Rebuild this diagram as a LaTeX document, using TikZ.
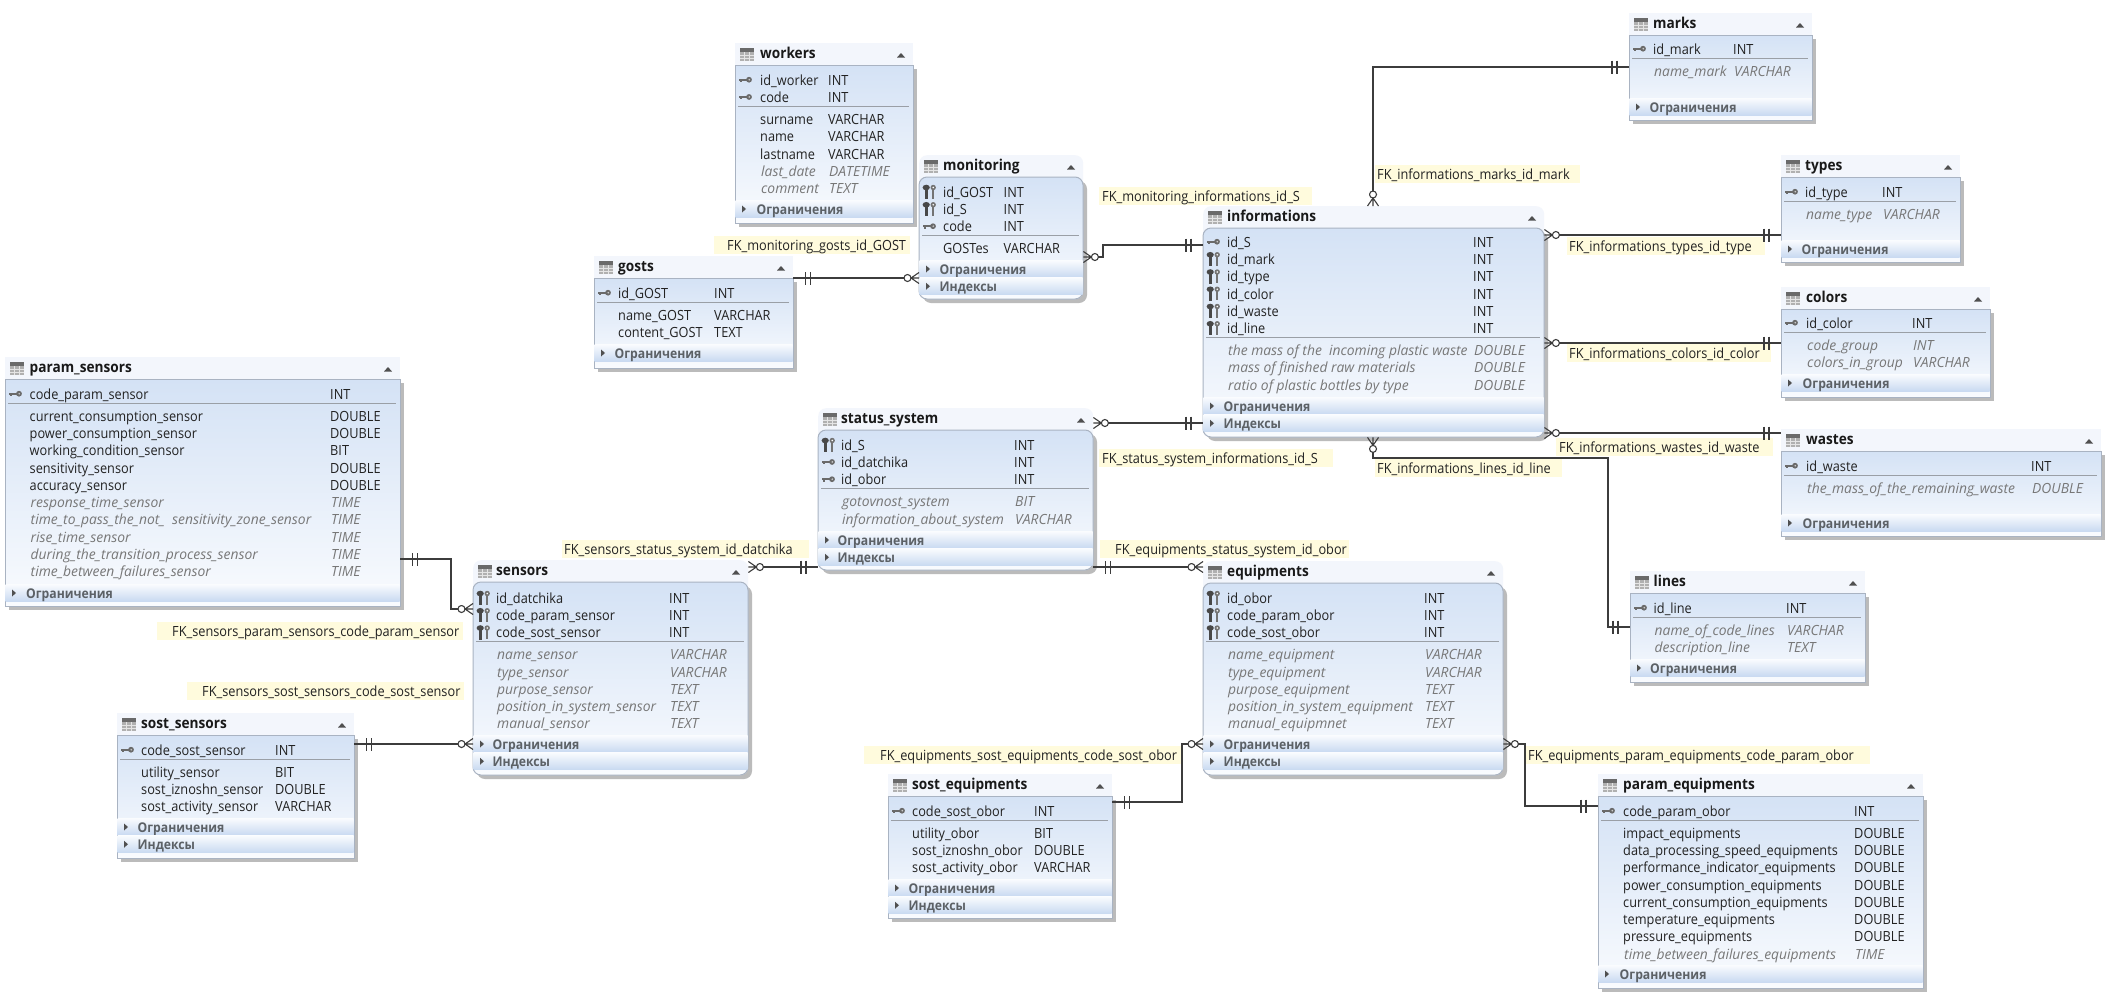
\documentclass[tikz,border=0pt]{standalone}
\usepackage{fontspec}
\setmainfont[FakeStretch=0.91,ItalicFeatures={FakeStretch=0.99},BoldItalicFeatures={FakeStretch=0.99}]{Open Sans}
\definecolor{bandc}{HTML}{F3F6FC}
\definecolor{bodytop}{HTML}{D4E2F5}
\definecolor{bodybot}{HTML}{F9FBFE}
\definecolor{secbot}{HTML}{C9DAF1}
\definecolor{edgec}{HTML}{A9B3C2}
\definecolor{shadowc}{HTML}{BBBBBB}
\definecolor{rulec}{HTML}{9A9FA6}
\definecolor{textc}{HTML}{222222}
\definecolor{italc}{HTML}{777777}
\definecolor{secc}{HTML}{5C6166}
\definecolor{iconc}{HTML}{505050}
\definecolor{labelc}{HTML}{FFFBDD}
\definecolor{linec}{HTML}{3C3C3C}
\pgfarrowsdeclare{ermany}{ermany}
{\pgfarrowsleftextend{0pt}\pgfarrowsrightextend{15pt}}
{\pgfsetdash{}{0pt}\pgfsetroundjoin
 \pgfpathcircle{\pgfpoint{3.5pt}{0pt}}{3.5pt}\pgfusepathqstroke
 \pgfpathmoveto{\pgfpoint{15pt}{5.5pt}}\pgfpathlineto{\pgfpoint{7pt}{0pt}}\pgfpathlineto{\pgfpoint{15pt}{-5.5pt}}
 \pgfpathmoveto{\pgfpoint{7pt}{0pt}}\pgfpathlineto{\pgfpoint{15pt}{0pt}}\pgfusepathqstroke}
\pgfarrowsdeclare{erone}{erone}
{\pgfarrowsleftextend{0pt}\pgfarrowsrightextend{17pt}}
{\pgfsetdash{}{0pt}
 \pgfpathmoveto{\pgfpoint{0pt}{0pt}}\pgfpathlineto{\pgfpoint{17pt}{0pt}}
 \pgfpathmoveto{\pgfpoint{0pt}{6.5pt}}\pgfpathlineto{\pgfpoint{0pt}{-6.5pt}}
 \pgfpathmoveto{\pgfpoint{5pt}{6.5pt}}\pgfpathlineto{\pgfpoint{5pt}{-6.5pt}}\pgfusepathqstroke}
\tikzset{
 tablebox/.style={fill=bandc,inner sep=0pt,anchor=north west},
 celltext/.style={anchor=base west,inner sep=0pt,yshift=-5.3pt,font=\fontsize{14}{16}\selectfont,text=textc},
 italtext/.style={celltext,xshift=1pt,text=italc,font=\fontsize{14}{16}\selectfont\itshape},
 titletext/.style={celltext,font=\fontsize{15}{16}\selectfont\bfseries,text=black!90},
 sectext/.style={celltext,text=secc,font=\fontsize{13.4}{16}\selectfont\bfseries},
 fktext/.style={celltext,text=textc},
 conn/.style={draw=linec,line width=1.1pt},
}
\newcount\rc
\newcommand\startat[1]{\xdef\ry{#1}}
\newcommand\advy[1]{\pgfmathsetmacro\tmpy{\ry+#1}\xdef\ry{\tmpy}}
% id, title, x1, x2, top, bottom, radius, col1, col2
\newcommand\ertable[9]{%
 \gdef\tid{#1}\gdef\xa{#3}\gdef\xb{#4}\gdef\colA{#8}\gdef\colB{#9}%
 \fill[shadowc,rounded corners=#7pt] (#3+4,#5+26) rectangle (#4+4,#6+4);
 \node[tablebox,rounded corners=#7pt,minimum width={#4-(#3)},minimum height={#6-(#5)}] (#1) at (#3,#5) {};
 \shade[top color=bodytop,bottom color=bodybot,rounded corners=#7pt] (#3,#5+22) rectangle (#4,#6);
 \draw[edgec,line width=1pt,rounded corners=#7pt] (#3,#5+22) rectangle (#4,#6);
 \fill[iconc!85] (#3+5,#5+4.5) rectangle (#3+19,#5+9);
 \fill[iconc!45] (#3+5,#5+9) rectangle (#3+19,#5+18);
 \draw[white!85!iconc,line width=.6pt] (#3+9.7,#5+9) -- (#3+9.7,#5+18) (#3+14.3,#5+9) -- (#3+14.3,#5+18) (#3+5,#5+12) -- (#3+19,#5+12) (#3+5,#5+15) -- (#3+19,#5+15);
 \node[titletext] (#1title) at (#8,#5+10) {#2};
 \fill[iconc] (#4-16,#5+14.5) -- (#4-8,#5+14.5) -- (#4-12,#5+10) -- cycle;
}
\newcommand\rowtext[3]{%
 \global\advance\rc by 1
 \node[#1] (\tid a\the\rc) at (\colA,\ry) {#2};
 \node[#1] (\tid b\the\rc) at (\colB,\ry) {#3};
 \advy{17.25}}
\newcommand\pkrow[2]{%
 \fill[iconc!85] (\xa+4,\ry-1.2) rectangle (\xa+14,\ry+.8);
 \fill[iconc!85] (\xa+4.5,\ry+.8) rectangle (\xa+7,\ry+2.2);
 \fill[iconc!85] (\xa+14,\ry-.3) circle (2.9);
 \fill[white!70!iconc] (\xa+14.3,\ry-.3) circle (.9);
 \rowtext{celltext}{#1}{#2}}
\newcommand\fkrow[2]{%
 \fill[iconc!90!black] (\xa+7.2,\ry-4.5) ellipse (3.6 and 2.8);
 \fill[iconc!90!black] (\xa+5.7,\ry-4) rectangle (\xa+8.7,\ry+7);
 \fill[iconc!80] (\xa+14.2,\ry-4.5) circle (2.7);
 \fill[white] (\xa+14.2,\ry-4.5) circle (.9);
 \fill[iconc!80] (\xa+13.1,\ry-2.5) rectangle (\xa+15.3,\ry+6.5);
 \rowtext{celltext}{#1}{#2}}
\newcommand\datarow[2]{\rowtext{celltext}{#1}{#2}}
\newcommand\itrow[2]{\rowtext{italtext}{#1}{#2}}
\newcommand\seprule{%
 \draw[rulec,line width=1pt] (\xa+3,\ry-8.25) -- (\xb-4,\ry-8.25);
 \advy{4.75}}
\newcommand\sectrow[1]{%
 \global\advance\rc by 1
 \shade[top color=bodybot,bottom color=secbot] (\xa+.5,\ry-8.5) rectangle (\xb-.5,\ry+8.2);
 \fill[iconc] (\xa+7,\ry-3.5) -- (\xa+7,\ry+3.5) -- (\xa+11,\ry) -- cycle;
 \node[sectext] (\tid s\the\rc) at (\colA-3.5,\ry) {#1};
 \advy{17.25}}
\newcommand\fklab[6]{% name, text, x1, x2, yc, textx
 \fill[labelc] (#3,#5-9) rectangle (#4,#5+9);
 \node[fktext] (#1) at (#6,#5) {#2};}
\catcode`\_=12
\begin{document}
\begin{tikzpicture}[x=1pt,y=-1pt]
\useasboundingbox (0,0) rectangle (2114,1004);
\fill[white] (0,0) rectangle (2114,1004);

\ertable{workers}{workers}{735}{913}{43}{223}{0}{760}{828}
\startat{80}\pkrow{id_worker}{INT}\pkrow{code}{INT}\seprule
\datarow{surname}{VARCHAR}\datarow{name}{VARCHAR}\datarow{lastname}{VARCHAR}
\itrow{last_date}{DATETIME}\itrow{comment}{TEXT}
\startat{209}\sectrow{Ограничения}

\ertable{monitoring}{monitoring}{919}{1083}{155}{299}{8}{943}{1003.5}
\startat{192}\fkrow{id_GOST}{INT}\fkrow{id_S}{INT}\pkrow{code}{INT}\seprule
\datarow{GOSTes}{VARCHAR}
\startat{269}\sectrow{Ограничения}\sectrow{Индексы}

\ertable{gosts}{gosts}{594}{793}{256}{368}{0}{618}{714}
\startat{293}\pkrow{id_GOST}{INT}\seprule
\datarow{name_GOST}{VARCHAR}\datarow{content_GOST}{TEXT}
\startat{353}\sectrow{Ограничения}

\ertable{informations}{informations}{1203}{1544}{206}{437}{8}{1227}{1473}
\startat{242}\pkrow{id_S}{INT}\fkrow{id_mark}{INT}\fkrow{id_type}{INT}\fkrow{id_color}{INT}\fkrow{id_waste}{INT}\fkrow{id_line}{INT}\seprule
\itrow{the mass of the \ incoming plastic waste}{DOUBLE}\itrow{mass of finished raw materials}{DOUBLE}\itrow{ratio of plastic bottles by type}{DOUBLE}
\startat{406}\sectrow{Ограничения}\sectrow{Индексы}

\ertable{marks}{marks}{1629}{1812}{13}{120}{0}{1653}{1733}
\startat{49}\pkrow{id_mark}{INT}\seprule
\itrow{name_mark}{VARCHAR}
\startat{107}\sectrow{Ограничения}

\ertable{types}{types}{1781}{1960}{155}{262}{0}{1805}{1882}
\startat{192}\pkrow{id_type}{INT}\seprule
\itrow{name_type}{VARCHAR}
\startat{249}\sectrow{Ограничения}

\ertable{colors}{colors}{1781}{1990}{287}{397}{0}{1806}{1912}
\startat{323}\pkrow{id_color}{INT}\seprule
\itrow{code_group}{INT}\itrow{colors_in_group}{VARCHAR}
\startat{383}\sectrow{Ограничения}

\ertable{wastes}{wastes}{1781}{2101}{429}{536}{0}{1806}{2031}
\startat{466}\pkrow{id_waste}{INT}\seprule
\itrow{the_mass_of_the_remaining_waste}{DOUBLE}
\startat{523}\sectrow{Ограничения}

\ertable{lines}{lines}{1630}{1865}{571}{682}{0}{1653.5}{1786}
\startat{608}\pkrow{id_line}{INT}\seprule
\itrow{name_of_code_lines}{VARCHAR}\itrow{description_line}{TEXT}
\startat{668}\sectrow{Ограничения}

\ertable{status}{status_system}{818}{1093}{408}{570}{8}{841}{1014}
\startat{445}\fkrow{id_S}{INT}\pkrow{id_datchika}{INT}\pkrow{id_obor}{INT}\seprule
\itrow{gotovnost_system}{BIT}\itrow{information_about_system}{VARCHAR}
\startat{540}\sectrow{Ограничения}\sectrow{Индексы}

\ertable{psens}{param_sensors}{5}{400}{357}{606}{0}{29.5}{330}
\startat{394}\pkrow{code_param_sensor}{INT}\seprule
\datarow{current_consumption_sensor}{DOUBLE}\datarow{power_consumption_sensor}{DOUBLE}\datarow{working_condition_sensor}{BIT}\datarow{sensitivity_sensor}{DOUBLE}\datarow{accuracy_sensor}{DOUBLE}
\itrow{response_time_sensor}{TIME}\itrow{time_to_pass_the_not_ \ sensitivity_zone_sensor}{TIME}\itrow{rise_time_sensor}{TIME}\itrow{during_the_transition_process_sensor}{TIME}\itrow{time_between_failures_sensor}{TIME}
\startat{593}\sectrow{Ограничения}

\ertable{sensors}{sensors}{473}{748}{560}{775}{8}{496}{669}
\startat{598}\fkrow{id_datchika}{INT}\fkrow{code_param_sensor}{INT}\fkrow{code_sost_sensor}{INT}\seprule
\itrow{name_sensor}{VARCHAR}\itrow{type_sensor}{VARCHAR}\itrow{purpose_sensor}{TEXT}\itrow{position_in_system_sensor}{TEXT}\itrow{manual_sensor}{TEXT}
\startat{744}\sectrow{Ограничения}\sectrow{Индексы}

\ertable{ssens}{sost_sensors}{117}{354}{713}{858}{0}{141}{275}
\startat{750}\pkrow{code_sost_sensor}{INT}\seprule
\datarow{utility_sensor}{BIT}\datarow{sost_iznoshn_sensor}{DOUBLE}\datarow{sost_activity_sensor}{VARCHAR}
\startat{827}\sectrow{Ограничения}\sectrow{Индексы}

\ertable{equipments}{equipments}{1203}{1503}{561}{775}{8}{1227}{1424}
\startat{598}\fkrow{id_obor}{INT}\fkrow{code_param_obor}{INT}\fkrow{code_sost_obor}{INT}\seprule
\itrow{name_equipment}{VARCHAR}\itrow{type_equipment}{VARCHAR}\itrow{purpose_equipment}{TEXT}\itrow{position_in_system_equipment}{TEXT}\itrow{manual_equipmnet}{TEXT}
\startat{744}\sectrow{Ограничения}\sectrow{Индексы}

\ertable{sequip}{sost_equipments}{888}{1112}{774}{918}{0}{912}{1034}
\startat{811}\pkrow{code_sost_obor}{INT}\seprule
\datarow{utility_obor}{BIT}\datarow{sost_iznoshn_obor}{DOUBLE}\datarow{sost_activity_obor}{VARCHAR}
\startat{888}\sectrow{Ограничения}\sectrow{Индексы}

\ertable{pequip}{param_equipments}{1598}{1923}{774}{988}{0}{1623}{1854}
\startat{811}\pkrow{code_param_obor}{INT}\seprule
\datarow{impact_equipments}{DOUBLE}\datarow{data_processing_speed_equipments}{DOUBLE}\datarow{performance_indicator_equipments}{DOUBLE}\datarow{power_consumption_equipments}{DOUBLE}\datarow{current_consumption_equipments}{DOUBLE}\datarow{temperature_equipments}{DOUBLE}\datarow{pressure_equipments}{DOUBLE}
\itrow{time_between_failures_equipments}{TIME}
\startat{974}\sectrow{Ограничения}

\fklab{fk1}{FK_monitoring_gosts_id_GOST}{714}{910}{245}{727}
\fklab{fk2}{FK_monitoring_informations_id_S}{1099}{1312}{196}{1102}
\fklab{fk3}{FK_informations_marks_id_mark}{1375}{1580}{174}{1377}
\fklab{fk4}{FK_informations_types_id_type}{1567}{1765}{246}{1569}
\fklab{fk5}{FK_informations_colors_id_color}{1567}{1771}{353}{1569}
\fklab{fk6}{FK_informations_wastes_id_waste}{1556}{1773}{447}{1559}
\fklab{fk7}{FK_informations_lines_id_line}{1375}{1562}{468}{1377}
\fklab{fk8}{FK_status_system_informations_id_S}{1099}{1333}{458}{1102}
\fklab{fk9}{FK_equipments_status_system_id_obor}{1100}{1349}{549}{1115}
\fklab{fk10}{FK_sensors_status_system_id_datchika}{562}{809}{549}{564}
\fklab{fk11}{FK_sensors_param_sensors_code_param_sensor}{157}{463}{631}{172}
\fklab{fk12}{FK_sensors_sost_sensors_code_sost_sensor}{187}{464}{691}{202}
\fklab{fk13}{FK_equipments_sost_equipments_code_sost_obor}{864}{1183}{755}{880}
\fklab{fk14}{FK_equipments_param_equipments_code_param_obor}{1526}{1870}{755}{1528}

\draw[conn,erone-ermany] (gosts.east |- 0,278) -- (monitoring.west |- 0,278);
\draw[conn,ermany-erone] (monitoring.east |- 0,257) -- (1103,257) -- (1103,245) -- (informations.west |- 0,245);
\draw[conn,ermany-erone] (status.east |- 0,423) -- (informations.west |- 0,423);
\draw[conn,ermany-erone] (1373,0 |- informations.north) -- (1373,67) -- (marks.west |- 0,67);
\draw[conn,ermany-erone] (informations.east |- 0,235) -- (types.west |- 0,235);
\draw[conn,ermany-erone] (informations.east |- 0,343) -- (colors.west |- 0,343);
\draw[conn,ermany-erone] (informations.east |- 0,433) -- (wastes.west |- 0,433);
\draw[conn,ermany-erone] (1373,0 |- informations.south) -- (1373,458) -- (1608,458) -- (1608,627) -- (lines.west |- 0,627);
\draw[conn,ermany-erone] (sensors.east |- 0,567) -- (status.west |- 0,567);
\draw[conn,erone-ermany] (status.east |- 0,567) -- (equipments.west |- 0,567);
\draw[conn,erone-ermany] (psens.east |- 0,559) -- (451,559) -- (451,609) -- (sensors.west |- 0,609);
\draw[conn,erone-ermany] (ssens.east |- 0,744) -- (sensors.west |- 0,744);
\draw[conn,erone-ermany] (sequip.east |- 0,802) -- (1182,802) -- (1182,744) -- (equipments.west |- 0,744);
\draw[conn,ermany-erone] (equipments.east |- 0,744) -- (1525,744) -- (1525,806) -- (pequip.west |- 0,806);
\end{tikzpicture}
\end{document}
